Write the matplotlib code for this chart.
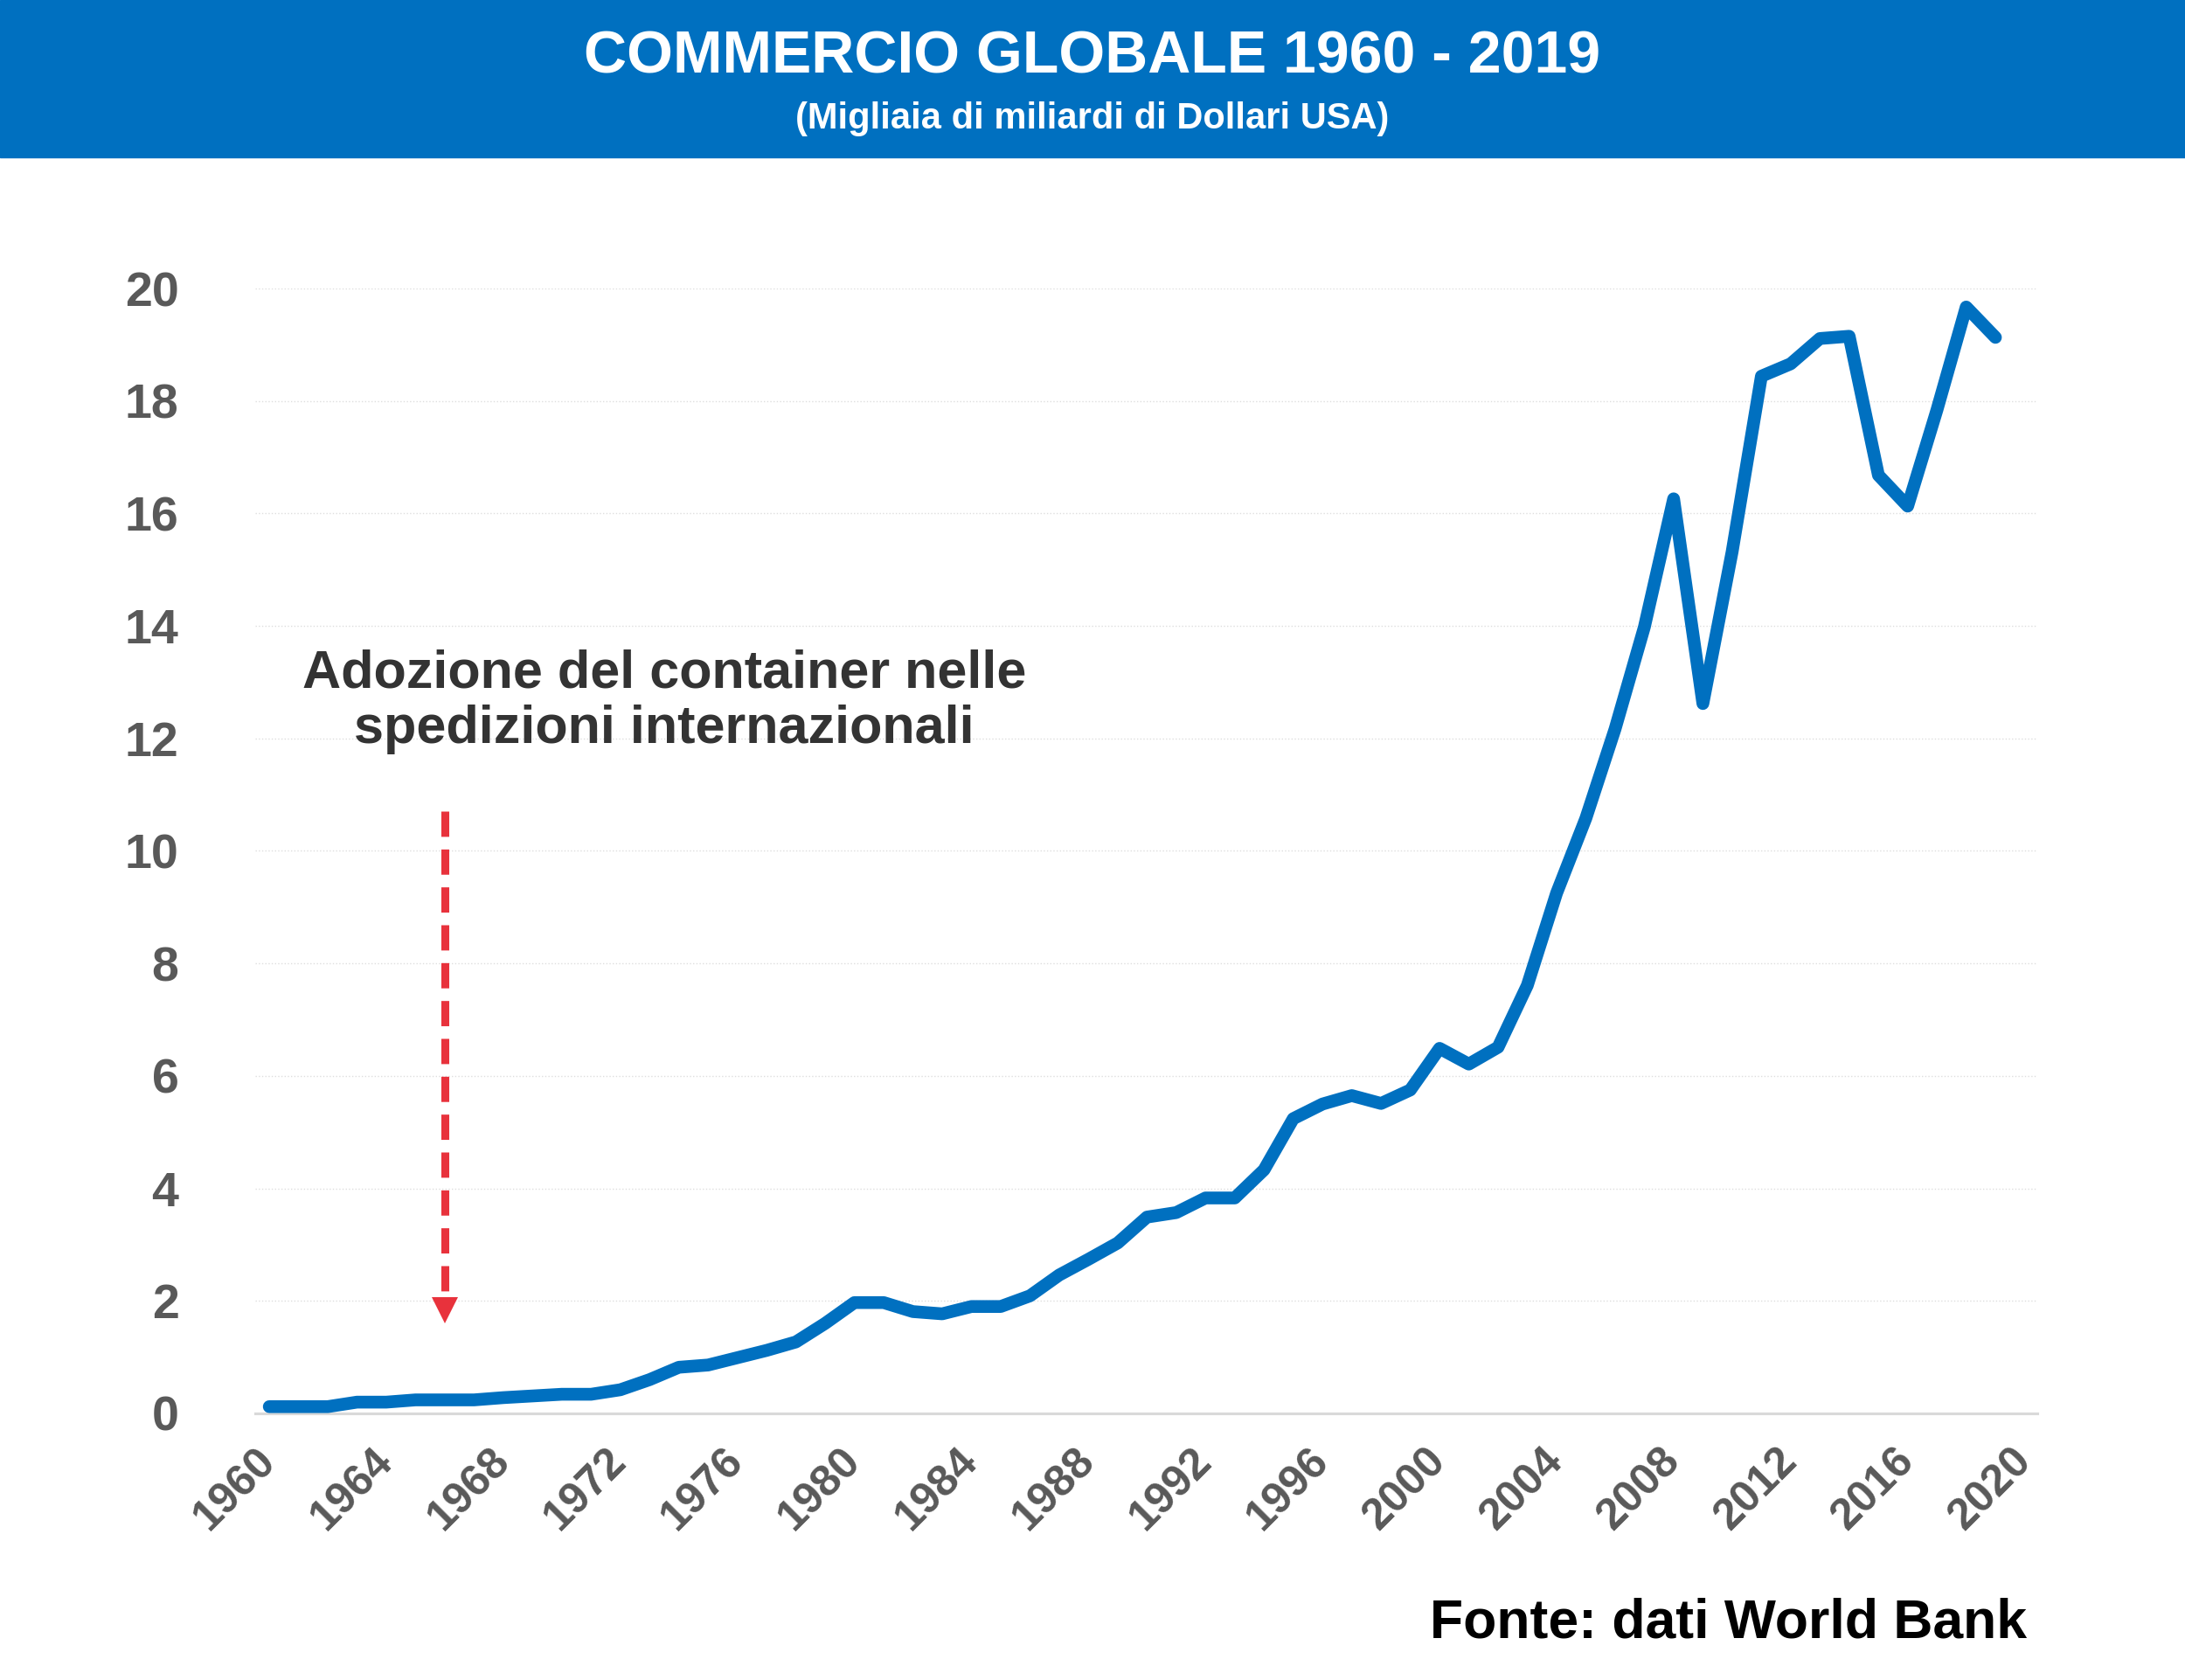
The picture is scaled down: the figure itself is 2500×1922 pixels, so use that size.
import numpy as np
import matplotlib
matplotlib.use('Agg')
import matplotlib.pyplot as plt
from matplotlib.patches import Rectangle

plt.rcParams['font.family'] = ['Liberation Sans', 'DejaVu Sans']
plt.rcParams['font.weight'] = 'bold'

# Data: world trade, thousands of billions of USD
years = np.arange(1960, 2020)
trade = [
    0.12, 0.12, 0.12, 0.20, 0.20, 0.24, 0.24, 0.24, 0.28, 0.31,
    0.34, 0.34, 0.42, 0.60, 0.82, 0.86, 0.99, 1.12, 1.27, 1.60,
    1.97, 1.97, 1.81, 1.77, 1.90, 1.90, 2.09, 2.46, 2.74, 3.03,
    3.49, 3.57, 3.83, 3.83, 4.33, 5.24, 5.50, 5.65, 5.51, 5.75,
    6.49, 6.21, 6.51, 7.61, 9.25, 10.58, 12.17, 13.98, 16.26, 12.62,
    15.32, 18.44, 18.66, 19.11, 19.15, 16.68, 16.13, 17.84, 19.67, 19.13,
]
xticks = np.arange(1960, 2021, 4)
yticks = np.arange(0, 21, 2)

title = 'COMMERCIO GLOBALE 1960 - 2019'
subtitle = '(Migliaia di miliardi di Dollari USA)'
note = 'Adozione del container nelle\nspedizioni internazionali'
source = 'Fonte: dati World Bank'
arrow_year = 1966

blue = '#0070C0'
red = '#E8323C'
grey = '#595959'

fig = plt.figure(figsize=(25, 19.22), dpi=100)
ax = fig.add_axes([0.1168, 0.1587, 0.9324 - 0.1168, 0.8283 - 0.1587])

# Header band
fig.patches.append(Rectangle((0, 1 - 180 / 1922), 1, 180 / 1922,
                             transform=fig.transFigure, color=blue, zorder=0))
fig.text(0.5, 0.966, title, color='white', fontsize=49, ha='center',
         va='center', weight='bold')
fig.text(0.5, 0.929, subtitle, color='white', fontsize=30, ha='center',
         va='center', weight='bold')

# Main line
ax.plot(years, trade, color=blue, lw=10.5, solid_capstyle='round',
        solid_joinstyle='round', zorder=3)

# Annotation arrow
ax.plot([arrow_year, arrow_year], [10.7, 2.1], color=red, lw=6.5,
        dashes=(3.2, 1.6), zorder=2)
ax.plot([arrow_year], [1.83], marker='v', color=red, ms=22, mew=0, zorder=2)
ax.text(1973.5, 12.65, note, ha='center', va='center', fontsize=44,
        color='#333333', weight='bold', linespacing=1.15)

# Axes styling
ax.set_xlim(1959.52, 2020.43)
ax.set_ylim(0, 20)
ax.set_xticks(xticks)
ax.set_yticks(yticks)
ax.set_yticklabels([str(v) for v in yticks], fontsize=40, color=grey,
                   weight='bold')
ax.set_xticklabels([str(v) for v in xticks], fontsize=36, color=grey,
                   weight='bold', rotation=45, ha='right', va='center',
                   rotation_mode='anchor')
ax.tick_params(axis='y', length=0, pad=63)
ax.tick_params(axis='x', length=0, pad=34)
ax.grid(axis='y', color='#dedede', lw=1.0, ls=':')
ax.set_axisbelow(True)
ax.spines[['left', 'right', 'top']].set_visible(False)
ax.spines['bottom'].set_color('#d9d9d9')
ax.spines['bottom'].set_linewidth(2.2)

fig.text(0.9275, 0.025, source, ha='right', va='baseline',
         fontsize=45, color='black', weight='bold')

fig.savefig('out.png', dpi=100)
